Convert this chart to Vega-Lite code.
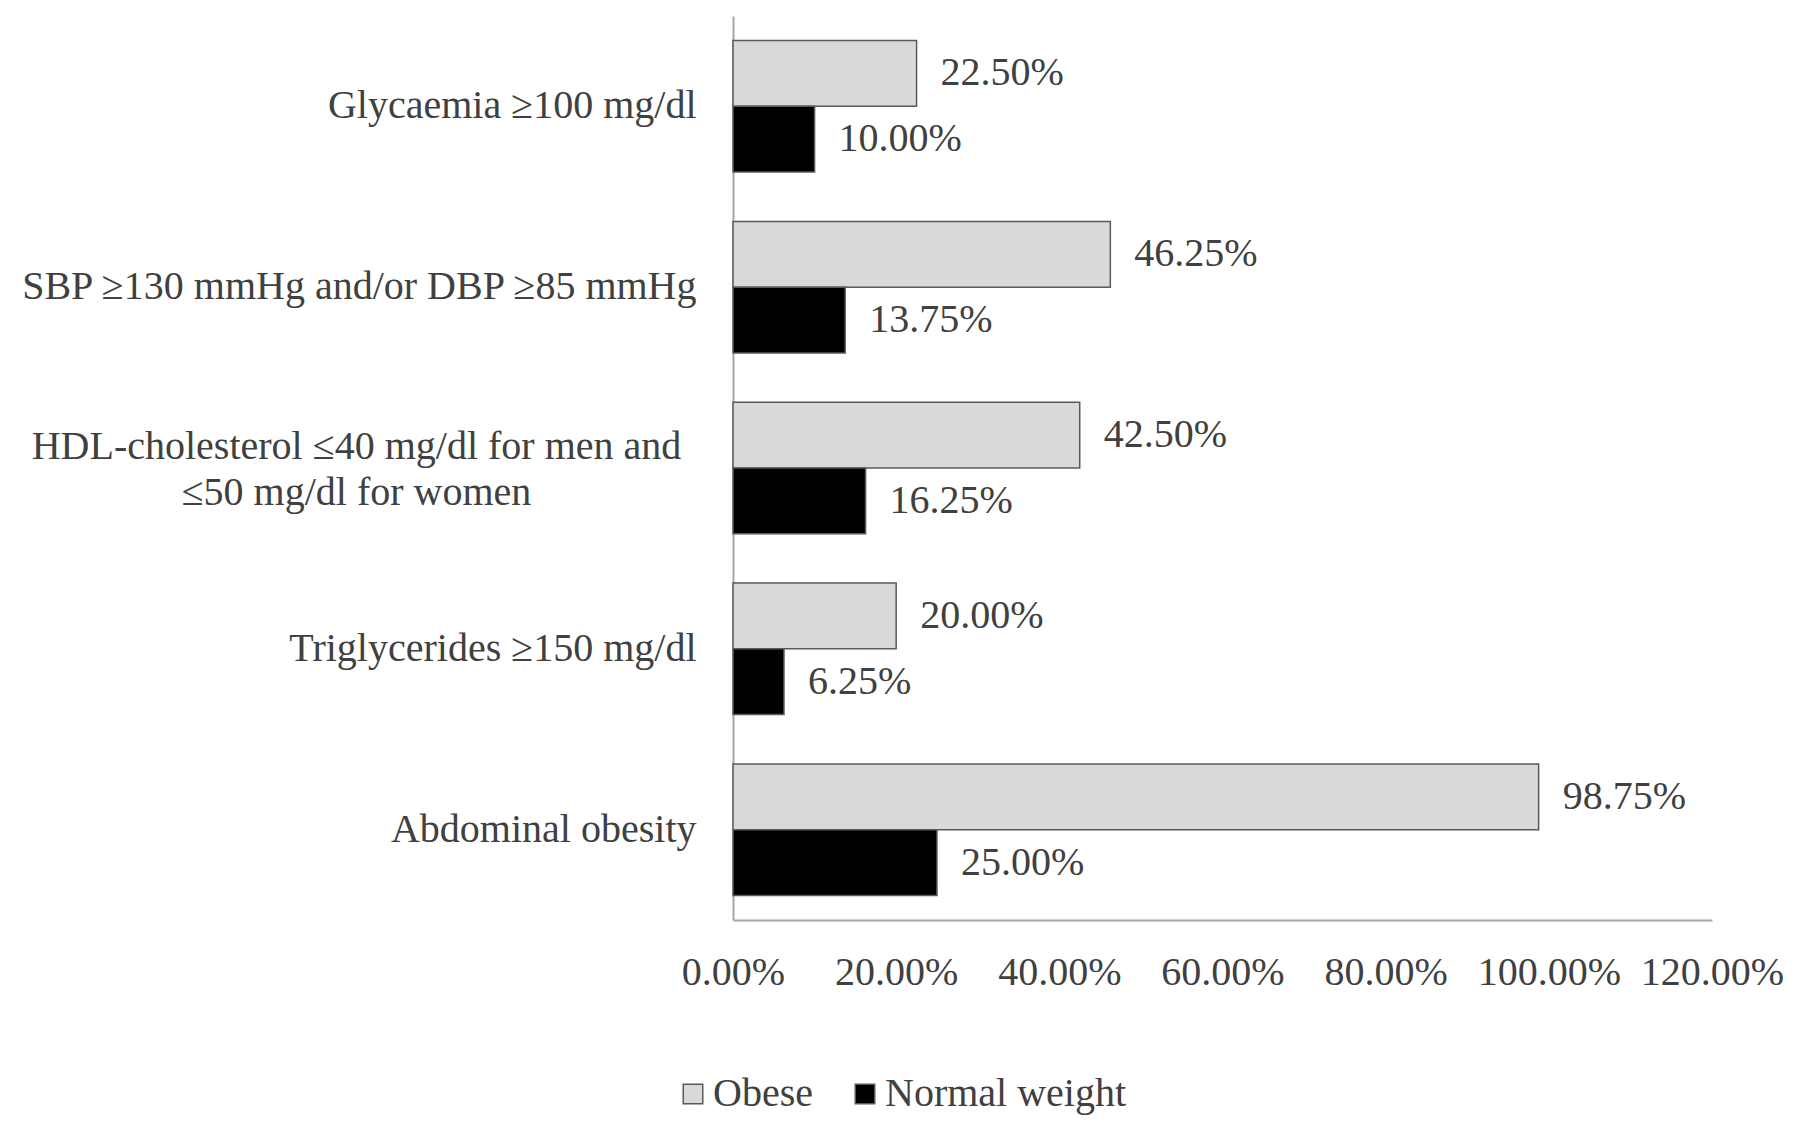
{
  "$schema": "https://vega.github.io/schema/vega-lite/v6.json",
  "autosize": {"type": "none"},
  "width": 979,
  "height": 904,
  "padding": {"left": 733, "top": 16, "right": 83, "bottom": 209},
  "background": "white",
  "config": {
    "view": {"stroke": null},
    "font": "Liberation Serif",
    "axis": {"labelFont": "Liberation Serif", "labelColor": "#404040", "labelFontSize": 40, "grid": false, "ticks": false, "tickSize": 0, "domainColor": "#a6a6a6", "domainWidth": 2, "title": null},
    "legend": {"labelFont": "Liberation Serif", "labelFontSize": 40, "labelColor": "#404040"}
  },
  "data": {
    "values": [
      {"cat": "Glycaemia ≥100 mg/dl", "group": "Obese", "value": 0.225},
      {"cat": "Glycaemia ≥100 mg/dl", "group": "Normal weight", "value": 0.10},
      {"cat": "SBP ≥130 mmHg and/or DBP ≥85 mmHg", "group": "Obese", "value": 0.4625},
      {"cat": "SBP ≥130 mmHg and/or DBP ≥85 mmHg", "group": "Normal weight", "value": 0.1375},
      {"cat": "HDL-cholesterol ≤40 mg/dl  for men and|≤50 mg/dl  for women", "group": "Obese", "value": 0.425},
      {"cat": "HDL-cholesterol ≤40 mg/dl  for men and|≤50 mg/dl  for women", "group": "Normal weight", "value": 0.1625},
      {"cat": "Triglycerides  ≥150 mg/dl", "group": "Obese", "value": 0.20},
      {"cat": "Triglycerides  ≥150 mg/dl", "group": "Normal weight", "value": 0.0625},
      {"cat": "Abdominal obesity", "group": "Obese", "value": 0.9875},
      {"cat": "Abdominal obesity", "group": "Normal weight", "value": 0.25}
    ]
  },
  "encoding": {
    "y": {
      "field": "cat", "type": "nominal", "sort": null,
      "scale": {"paddingInner": 0.273, "paddingOuter": 0.136},
      "axis": {
        "labelExpr": "split(datum.label, '|')",
        "labelLineHeight": 46,
        "labelLimit": 800,
        "labelAlign": {"condition": {"test": "indexof(datum.value, '|') >= 0", "value": "center"}, "value": "right"},
        "labelPadding": {"condition": {"test": "indexof(datum.value, '|') >= 0", "value": 377}, "value": 37},
        "labelOffset": {"condition": {"test": "indexof(datum.value, '|') >= 0", "value": -21}, "value": 0}
      }
    },
    "yOffset": {"field": "group", "type": "nominal", "sort": ["Obese", "Normal weight"], "scale": {"paddingInner": 0, "paddingOuter": 0}},
    "x": {
      "field": "value", "type": "quantitative",
      "scale": {"domain": [0, 1.2], "nice": false},
      "axis": {"values": [0, 0.2, 0.4, 0.6, 0.8, 1.0, 1.2], "format": ".2%", "labelBaseline": "middle", "labelPadding": 52, "labelFlush": false, "labelOverlap": false}
    }
  },
  "layer": [
    {
      "mark": {"type": "bar", "stroke": "#595959", "strokeWidth": 1.5},
      "encoding": {
        "color": {
          "field": "group", "type": "nominal",
          "scale": {"domain": ["Obese", "Normal weight"], "range": ["#d9d9d9", "#000000"]},
          "legend": {
            "title": null, "orient": "none", "direction": "horizontal",
            "legendX": -60, "legendY": 1058,
            "symbolType": "square", "symbolSize": 380,
            "symbolStrokeColor": "#595959", "symbolStrokeWidth": 1.5,
            "columnPadding": 32, "labelOffset": 0, "labelLimit": 0
          }
        }
      }
    },
    {
      "mark": {"type": "text", "align": "left", "baseline": "middle", "dx": 24, "fontSize": 40, "color": "#404040", "font": "Liberation Serif"},
      "encoding": {
        "text": {"field": "value", "type": "quantitative", "format": ".2%"}
      }
    }
  ]
}
